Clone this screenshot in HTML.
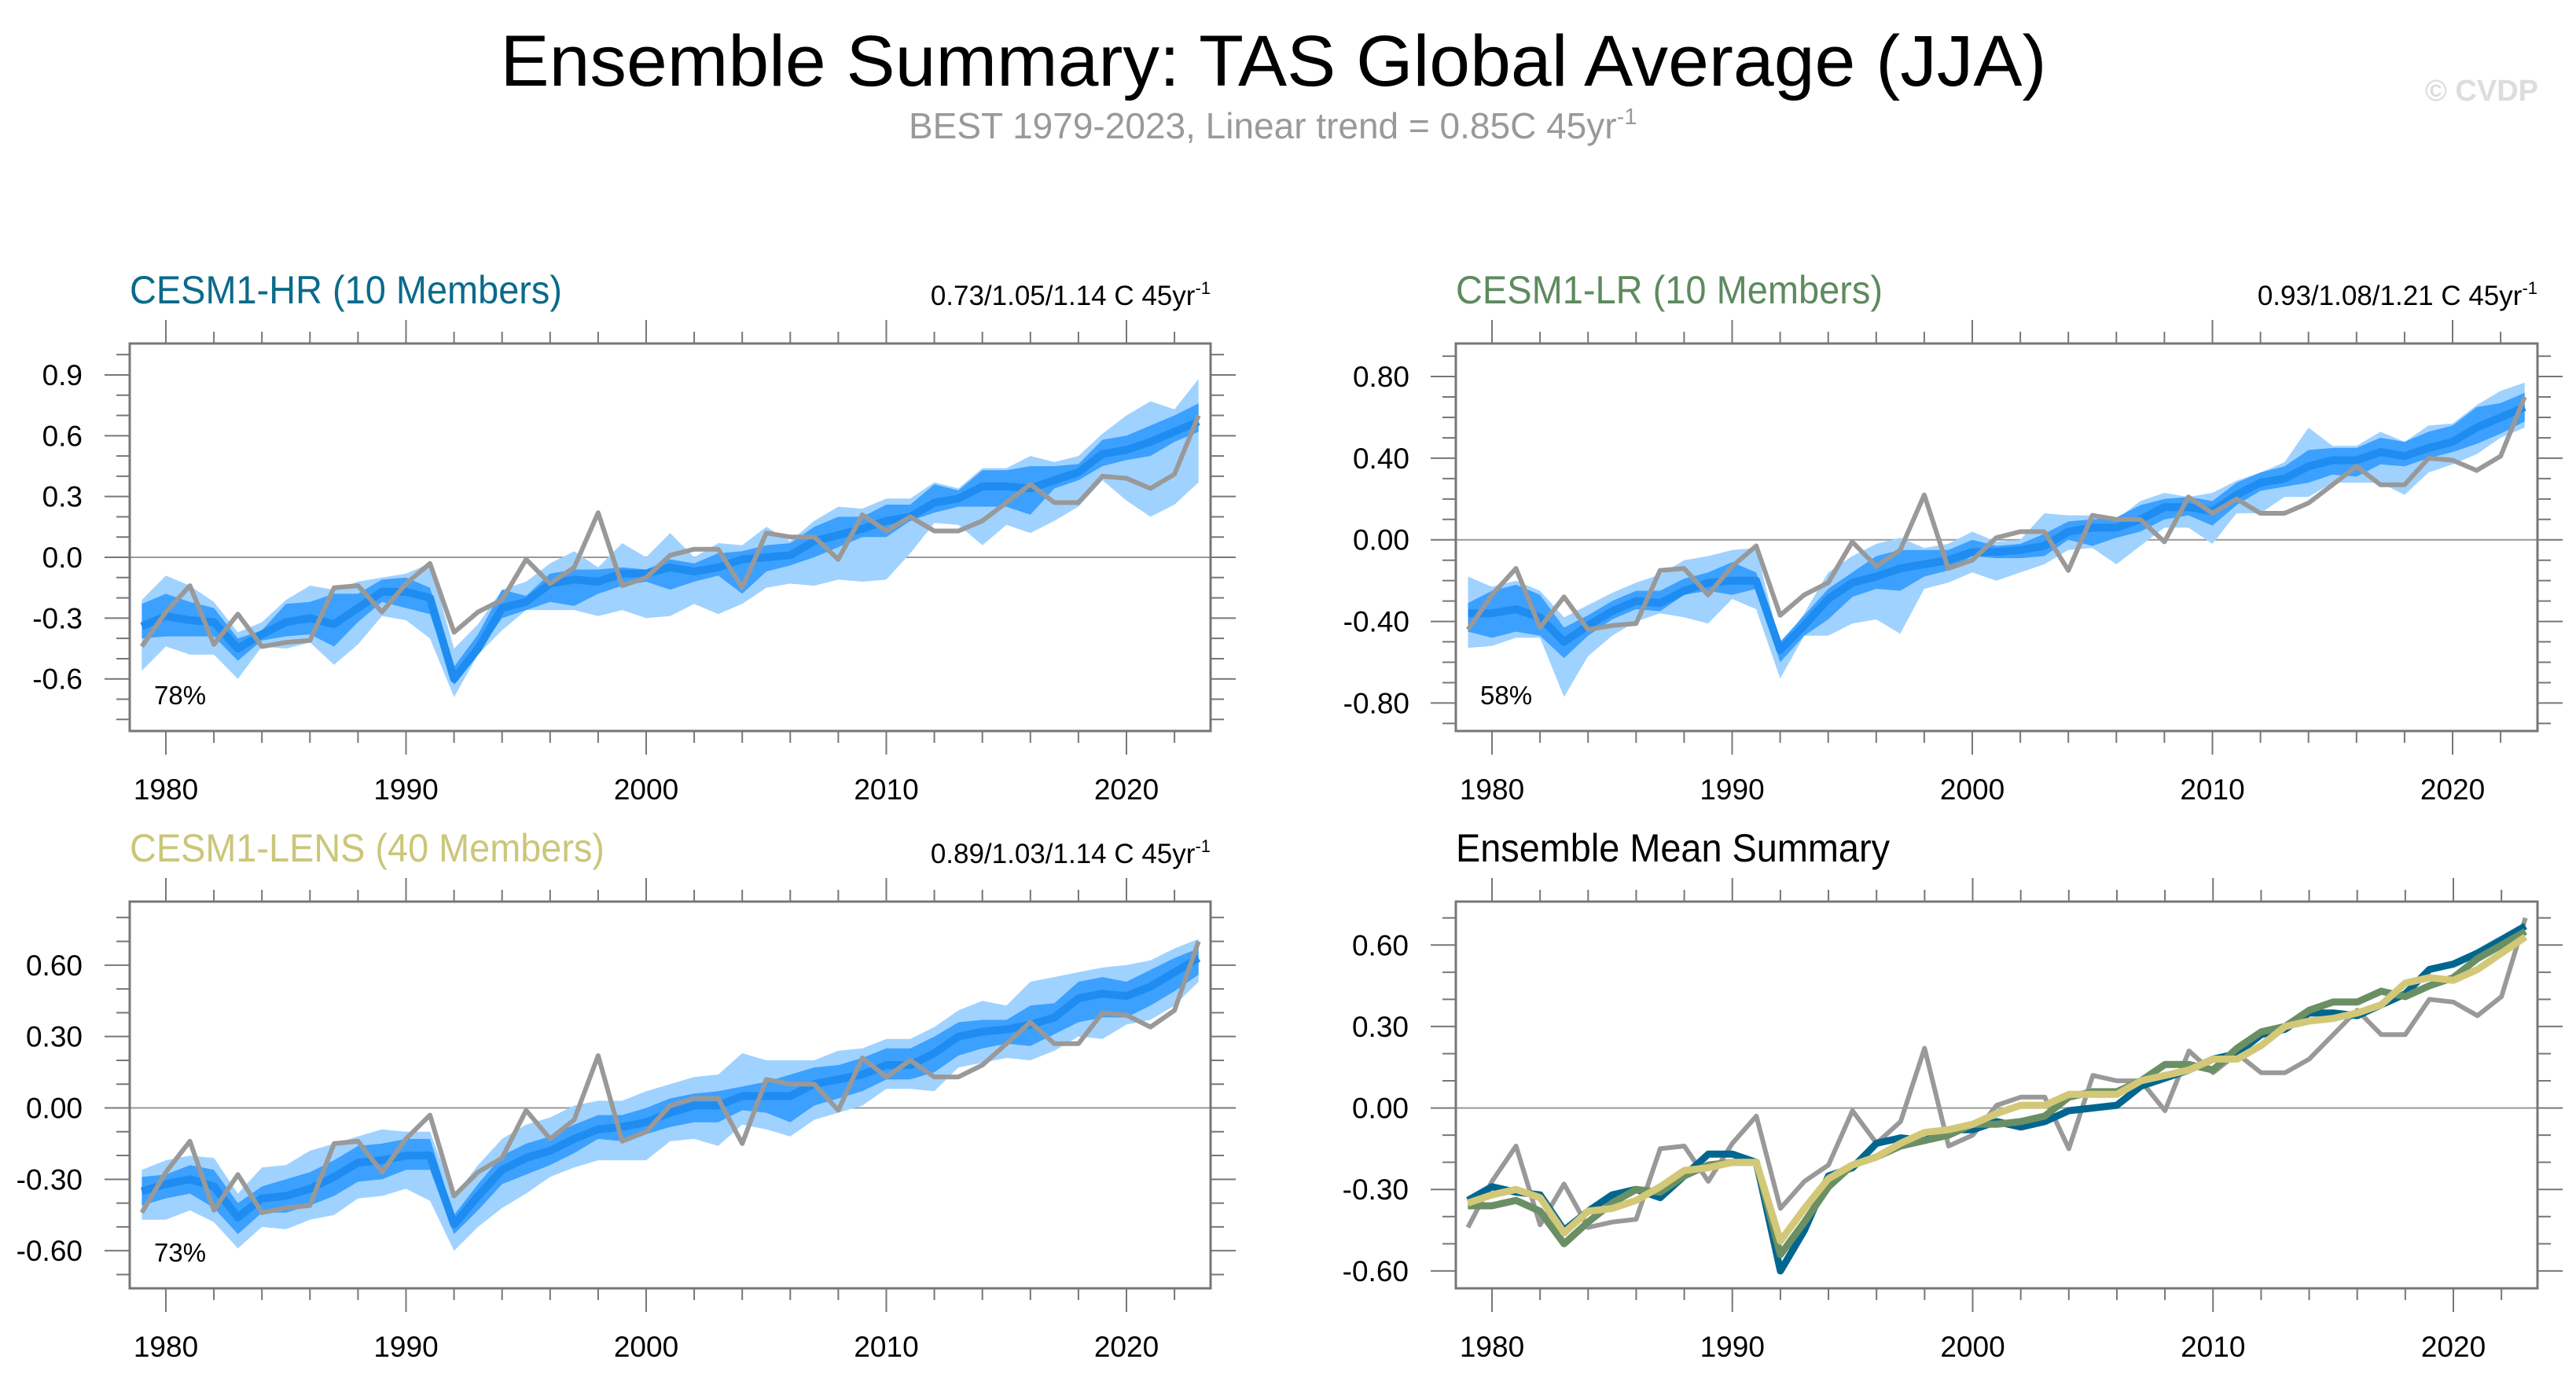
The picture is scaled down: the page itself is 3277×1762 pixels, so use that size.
<!DOCTYPE html>
<html><head><meta charset="utf-8"><style>
html,body{margin:0;padding:0;background:#fff;}
svg{display:block;font-family:"Liberation Sans",Arial,sans-serif;}
</style></head><body>
<svg id="chart" width="3277" height="1762" viewBox="0 0 3277 1762" xmlns="http://www.w3.org/2000/svg">
<text x="1620" y="109" text-anchor="middle" font-size="92" textLength="1967" lengthAdjust="spacingAndGlyphs">Ensemble Summary: TAS Global Average (JJA)</text>
<text x="1156" y="176" font-size="46" fill="#999">BEST 1979-2023, Linear trend = 0.85C 45yr<tspan dy="-18" font-size="29">-1</tspan></text>
<text x="3229" y="128" text-anchor="end" font-size="38" font-weight="bold" fill="#ddd">© CVDP</text>
<g id="plots"></g>
</svg>
<script>
const years = [];
for (let y = 1979; y <= 2023; y++) years.push(y);

const obsBEST = [-0.44,-0.27,-0.14,-0.43,-0.28,-0.44,-0.42,-0.41,-0.15,-0.14,-0.27,-0.13,-0.03,
 -0.37,-0.27,-0.21,-0.01,-0.13,-0.05,0.22,-0.14,
 -0.10,0.01,0.04,0.04,-0.15,0.12,0.10,0.10,-0.01,0.21,
 0.13,0.20,0.13,0.13,0.18,0.27,0.36,0.27,0.27,0.40,
 0.39,0.34,0.41,0.70];

const hrMean = [-0.34,-0.29,-0.31,-0.32,-0.45,-0.38,-0.32,-0.30,-0.33,-0.25,-0.17,-0.17,-0.20,
 -0.60,-0.45,-0.25,-0.22,-0.13,-0.11,-0.12,-0.08,
 -0.08,-0.05,-0.07,-0.05,-0.01,0.00,0.01,0.08,0.11,0.14,
 0.18,0.20,0.27,0.29,0.35,0.35,0.34,0.38,0.42,0.51,
 0.53,0.57,0.62,0.67];
const hrOuterHi = [-0.21,-0.09,-0.14,-0.22,-0.37,-0.32,-0.21,-0.14,-0.16,-0.12,-0.10,-0.08,-0.03,
 -0.45,-0.33,-0.16,-0.12,-0.03,0.03,-0.05,0.07,
 0.00,0.12,0.00,0.07,0.06,0.15,0.08,0.18,0.25,0.24,
 0.29,0.29,0.37,0.34,0.44,0.44,0.50,0.47,0.50,0.61,
 0.70,0.77,0.73,0.88];
const hrOuterLo = [-0.56,-0.44,-0.48,-0.48,-0.60,-0.44,-0.45,-0.42,-0.53,-0.43,-0.29,-0.31,-0.40,
 -0.69,-0.48,-0.36,-0.26,-0.26,-0.26,-0.29,-0.26,
 -0.30,-0.29,-0.23,-0.28,-0.23,-0.15,-0.13,-0.14,-0.11,-0.12,
 -0.11,0.02,0.17,0.16,0.06,0.16,0.12,0.18,0.25,0.38,
 0.28,0.20,0.26,0.37];
const hrInnerHi = [-0.23,-0.18,-0.22,-0.25,-0.40,-0.36,-0.23,-0.22,-0.18,-0.18,-0.11,-0.10,-0.15,
 -0.54,-0.38,-0.16,-0.19,-0.08,-0.06,-0.06,-0.05,
 -0.06,-0.01,-0.03,0.02,0.03,0.06,0.07,0.15,0.20,0.20,
 0.26,0.26,0.36,0.33,0.43,0.43,0.45,0.45,0.46,0.58,
 0.60,0.65,0.70,0.76];
const hrInnerLo = [-0.40,-0.39,-0.39,-0.39,-0.51,-0.41,-0.39,-0.38,-0.44,-0.32,-0.22,-0.25,-0.28,
 -0.63,-0.47,-0.30,-0.26,-0.22,-0.24,-0.18,-0.14,
 -0.12,-0.16,-0.12,-0.09,-0.18,-0.07,-0.04,0.00,0.05,0.10,
 0.10,0.18,0.22,0.25,0.25,0.25,0.21,0.34,0.38,0.45,
 0.48,0.50,0.57,0.62];

const lrMean = [-0.36,-0.36,-0.34,-0.38,-0.50,-0.42,-0.35,-0.30,-0.31,-0.25,-0.21,-0.20,-0.20,
 -0.54,-0.42,-0.29,-0.21,-0.18,-0.14,-0.12,-0.10,
 -0.06,-0.06,-0.05,-0.03,0.04,0.06,0.06,0.10,0.16,0.16,
 0.14,0.22,0.28,0.30,0.36,0.39,0.39,0.43,0.41,0.45,
 0.48,0.55,0.60,0.65];
const lrOuterHi = [-0.18,-0.23,-0.20,-0.25,-0.38,-0.32,-0.26,-0.21,-0.17,-0.10,-0.08,-0.05,-0.04,
 -0.52,-0.36,-0.16,-0.08,-0.02,0.01,-0.04,-0.02,
 0.04,-0.01,0.00,0.13,0.12,0.12,0.10,0.19,0.23,0.21,
 0.23,0.29,0.33,0.38,0.55,0.46,0.46,0.53,0.48,0.56,
 0.57,0.66,0.73,0.77];
const lrOuterLo = [-0.53,-0.52,-0.48,-0.48,-0.77,-0.57,-0.47,-0.40,-0.36,-0.38,-0.41,-0.29,-0.34,
 -0.68,-0.47,-0.47,-0.41,-0.39,-0.46,-0.24,-0.21,
 -0.16,-0.20,-0.16,-0.12,-0.05,-0.04,-0.12,-0.03,0.06,0.06,
 -0.02,0.13,0.13,0.21,0.21,0.28,0.28,0.28,0.22,0.33,
 0.37,0.42,0.50,0.55];
const lrInnerHi = [-0.31,-0.25,-0.22,-0.27,-0.43,-0.37,-0.30,-0.25,-0.25,-0.19,-0.16,-0.11,-0.16,
 -0.50,-0.37,-0.24,-0.16,-0.08,-0.05,-0.05,-0.05,
 0.00,-0.03,-0.02,0.03,0.09,0.10,0.11,0.17,0.20,0.21,
 0.19,0.28,0.33,0.36,0.44,0.45,0.45,0.50,0.48,0.53,
 0.56,0.65,0.67,0.72];
const lrInnerLo = [-0.45,-0.48,-0.45,-0.47,-0.58,-0.47,-0.39,-0.34,-0.35,-0.27,-0.25,-0.27,-0.24,
 -0.60,-0.47,-0.39,-0.28,-0.24,-0.25,-0.18,-0.15,
 -0.08,-0.09,-0.09,-0.08,0.00,-0.03,0.01,0.04,0.10,0.12,
 0.07,0.17,0.24,0.26,0.28,0.32,0.31,0.37,0.36,0.40,
 0.43,0.47,0.52,0.58];

const lensMean = [-0.35,-0.32,-0.30,-0.33,-0.46,-0.38,-0.37,-0.34,-0.29,-0.23,-0.22,-0.20,-0.20,
 -0.49,-0.37,-0.26,-0.21,-0.18,-0.13,-0.09,-0.08,
 -0.06,-0.02,0.01,0.01,0.05,0.05,0.05,0.10,0.12,0.14,
 0.18,0.18,0.23,0.30,0.32,0.33,0.35,0.38,0.46,0.48,
 0.47,0.51,0.57,0.63];
const lensOuterHi = [-0.26,-0.22,-0.20,-0.21,-0.36,-0.25,-0.24,-0.18,-0.15,-0.12,-0.09,-0.10,-0.10,
 -0.37,-0.24,-0.13,-0.07,-0.04,0.01,0.03,0.03,
 0.07,0.10,0.13,0.14,0.23,0.20,0.20,0.20,0.24,0.25,
 0.29,0.29,0.34,0.41,0.45,0.43,0.53,0.55,0.57,0.59,
 0.60,0.62,0.67,0.71];
const lensOuterLo = [-0.47,-0.47,-0.43,-0.48,-0.59,-0.50,-0.51,-0.47,-0.45,-0.38,-0.37,-0.34,-0.39,
 -0.60,-0.50,-0.42,-0.36,-0.29,-0.25,-0.22,-0.22,
 -0.22,-0.14,-0.13,-0.16,-0.07,-0.09,-0.12,-0.05,-0.02,0.01,
 0.08,0.08,0.07,0.17,0.19,0.21,0.20,0.24,0.30,0.29,
 0.35,0.37,0.43,0.53];
const lensInnerHi = [-0.29,-0.28,-0.24,-0.26,-0.40,-0.33,-0.30,-0.27,-0.22,-0.16,-0.15,-0.13,-0.13,
 -0.45,-0.32,-0.20,-0.15,-0.12,-0.07,-0.03,-0.03,
 0.00,0.04,0.06,0.07,0.09,0.11,0.14,0.17,0.18,0.21,
 0.25,0.25,0.30,0.36,0.37,0.37,0.43,0.44,0.53,0.55,
 0.53,0.58,0.63,0.67];
const lensInnerLo = [-0.41,-0.38,-0.36,-0.42,-0.53,-0.44,-0.44,-0.41,-0.37,-0.31,-0.30,-0.26,-0.26,
 -0.53,-0.43,-0.32,-0.28,-0.24,-0.19,-0.13,-0.14,
 -0.11,-0.08,-0.06,-0.06,-0.01,-0.02,-0.06,0.01,0.04,0.07,
 0.12,0.12,0.15,0.22,0.25,0.27,0.26,0.31,0.36,0.38,
 0.38,0.43,0.49,0.56];

const xTickLabels = ["1980","1990","2000","2010","2020"];
const hrYTicks = [-0.6,-0.3,0.0,0.3,0.6,0.9];
const lrYTicks = [-0.8,-0.4,0.0,0.4,0.8];
const lensYTicks = [-0.6,-0.3,0.0,0.3,0.6];
const sumYTicks = [-0.6,-0.3,0.0,0.3,0.6];
const hrStats = "0.73/1.05/1.14 C 45yr";
const lrStats = "0.93/1.08/1.21 C 45yr";
const lensStats = "0.89/1.03/1.14 C 45yr";
const hrPct = "78%", lrPct = "58%", lensPct = "73%";

const NS = "http://www.w3.org/2000/svg";
const root = document.getElementById('plots');
function mk(tag, attrs, parent) {
  const e = document.createElementNS(NS, tag);
  for (const k in attrs) e.setAttribute(k, attrs[k]);
  (parent || root).appendChild(e);
  return e;
}

function panel(cfg) {
  const g = mk('g', {});
  
  
  const xS = yr => cfg.x1980 + (yr - 1980) * (cfg.x2020 - cfg.x1980) / 40;
  const yS = v => cfg.top + (cfg.ymax - v) / (cfg.ymax - cfg.ymin) * (cfg.bottom - cfg.top);
  const t = mk('text', {x: cfg.left, y: cfg.top - 51, 'font-size': 50, fill: cfg.titleColor, textLength: cfg.titleW, lengthAdjust: 'spacingAndGlyphs'}, g);
  t.textContent = cfg.title;
  
  
  if (cfg.stats) {
    const s = mk('text', {x: cfg.right, y: cfg.top - 49, 'font-size': 35, 'text-anchor': 'end'}, g);
    
    
    s.appendChild(document.createTextNode(cfg.stats));
    const sup = mk('tspan', {dy: -14, 'font-size': 22}, s);
    sup.textContent = '-1';
  }
  const z = mk('line', {x1: cfg.left, x2: cfg.right, y1: yS(0), y2: yS(0), stroke: '#999', 'stroke-width': 2}, g);
  
  
  const pts = arr => arr.map((v, i) => xS(years[i]).toFixed(1) + ',' + yS(v).toFixed(1));
  function band(lo, hi, color, nm) {
    const p = pts(hi).concat(pts(lo).reverse());
    const e = mk('polygon', {points: p.join(' '), fill: color}, g);
    
    
  }
  function line(arr, color, w, nm) {
    const e = mk('polyline', {points: pts(arr).join(' '), fill: 'none', stroke: color, 'stroke-width': w, 'stroke-linejoin': 'round'}, g);
    
    
  }
  if (cfg.bands) {
    band(cfg.bands.olo, cfg.bands.ohi, '#a0d2ff', 'outer-spread-band');
    band(cfg.bands.ilo, cfg.bands.ihi, '#3ca0ff', 'inner-spread-band');
    line(cfg.bands.mean, '#1e8cf0', 10, 'ensemble-mean-line');
    line(obsBEST, '#999', 6, 'best-observations-line');
  }
  if (cfg.multi) {
    line(obsBEST, '#999', 6, 'best-observations-line');
    line(hrMean, '#00668f', 9, 'cesm1-hr-mean-line');
    line(lrMean, '#6a8f64', 9, 'cesm1-lr-mean-line');
    line(lensMean, '#d2c878', 9, 'cesm1-lens-mean-line');
  }
  const f = mk('rect', {x: cfg.left, y: cfg.top, width: cfg.right - cfg.left, height: cfg.bottom - cfg.top, fill: 'none', stroke: '#777', 'stroke-width': 3}, g);
  
  
  for (let yr = 1980; yr <= 2022; yr += 2) {
    const major = yr % 10 === 0;
    const L = major ? 30 : 15;
    const x = xS(yr);
    mk('line', {x1: x, x2: x, y1: cfg.top, y2: cfg.top - L, stroke: '#777', 'stroke-width': 2}, g);
    mk('line', {x1: x, x2: x, y1: cfg.bottom, y2: cfg.bottom + L, stroke: '#777', 'stroke-width': 2}, g);
  }
  xTickLabels.forEach(lab => {
    const e = mk('text', {x: xS(+lab), y: cfg.bottom + 87, 'font-size': 37, 'text-anchor': 'middle'}, g);
    e.textContent = lab;
    
    
  });
  const lo = Math.ceil(cfg.ymin * 10 - 1e-6), hi = Math.floor(cfg.ymax * 10 + 1e-6);
  const majorSet = cfg.yticks.map(v => Math.round(v * 10));
  for (let k = lo; k <= hi; k++) {
    const y = yS(k / 10);
    const L = majorSet.includes(k) ? 32 : 17;
    mk('line', {x1: cfg.left, x2: cfg.left - L, y1: y, y2: y, stroke: '#777', 'stroke-width': 2}, g);
    mk('line', {x1: cfg.right, x2: cfg.right + L, y1: y, y2: y, stroke: '#777', 'stroke-width': 2}, g);
  }
  cfg.yticks.forEach(v => {
    const e = mk('text', {x: cfg.ylabX, y: yS(v) + 13, 'font-size': 37, 'text-anchor': 'end'}, g);
    e.textContent = v.toFixed(cfg.dec);
    
    
  });
  if (cfg.pct) {
    const e = mk('text', {x: cfg.left + 31, y: cfg.bottom - 34, 'font-size': 33}, g);
    e.textContent = cfg.pct;
    
    
  }
}

panel({name: 'cesm1-hr-panel', title: 'CESM1-HR (10 Members)', titleColor: '#0a6a8c', titleW: 550, stats: hrStats, pct: hrPct,
  left: 165, right: 1540, top: 437, bottom: 930, x1980: 211, x2020: 1433, ymin: -0.857, ymax: 1.055,
  yticks: hrYTicks, dec: 1, ylabX: 105,
  bands: {mean: hrMean, olo: hrOuterLo, ohi: hrOuterHi, ilo: hrInnerLo, ihi: hrInnerHi}});
panel({name: 'cesm1-lr-panel', title: 'CESM1-LR (10 Members)', titleColor: '#5e8a5e', titleW: 543, stats: lrStats, pct: lrPct,
  left: 1852, right: 3228, top: 437, bottom: 930, x1980: 1898, x2020: 3120, ymin: -0.937, ymax: 0.962,
  yticks: lrYTicks, dec: 2, ylabX: 1793,
  bands: {mean: lrMean, olo: lrOuterLo, ohi: lrOuterHi, ilo: lrInnerLo, ihi: lrInnerHi}});
panel({name: 'cesm1-lens-panel', title: 'CESM1-LENS (40 Members)', titleColor: '#cbc67a', titleW: 604, stats: lensStats, pct: lensPct,
  left: 165, right: 1540, top: 1147, bottom: 1639, x1980: 211, x2020: 1433, ymin: -0.758, ymax: 0.867,
  yticks: lensYTicks, dec: 2, ylabX: 105,
  bands: {mean: lensMean, olo: lensOuterLo, ohi: lensOuterHi, ilo: lensInnerLo, ihi: lensInnerHi}});
panel({name: 'ensemble-mean-summary-panel', title: 'Ensemble Mean Summary', titleColor: '#000', titleW: 552,
  left: 1852, right: 3228, top: 1147, bottom: 1639, x1980: 1898, x2020: 3121, ymin: -0.664, ymax: 0.76,
  yticks: sumYTicks, dec: 2, ylabX: 1792, multi: true});
</script>
</body></html>
